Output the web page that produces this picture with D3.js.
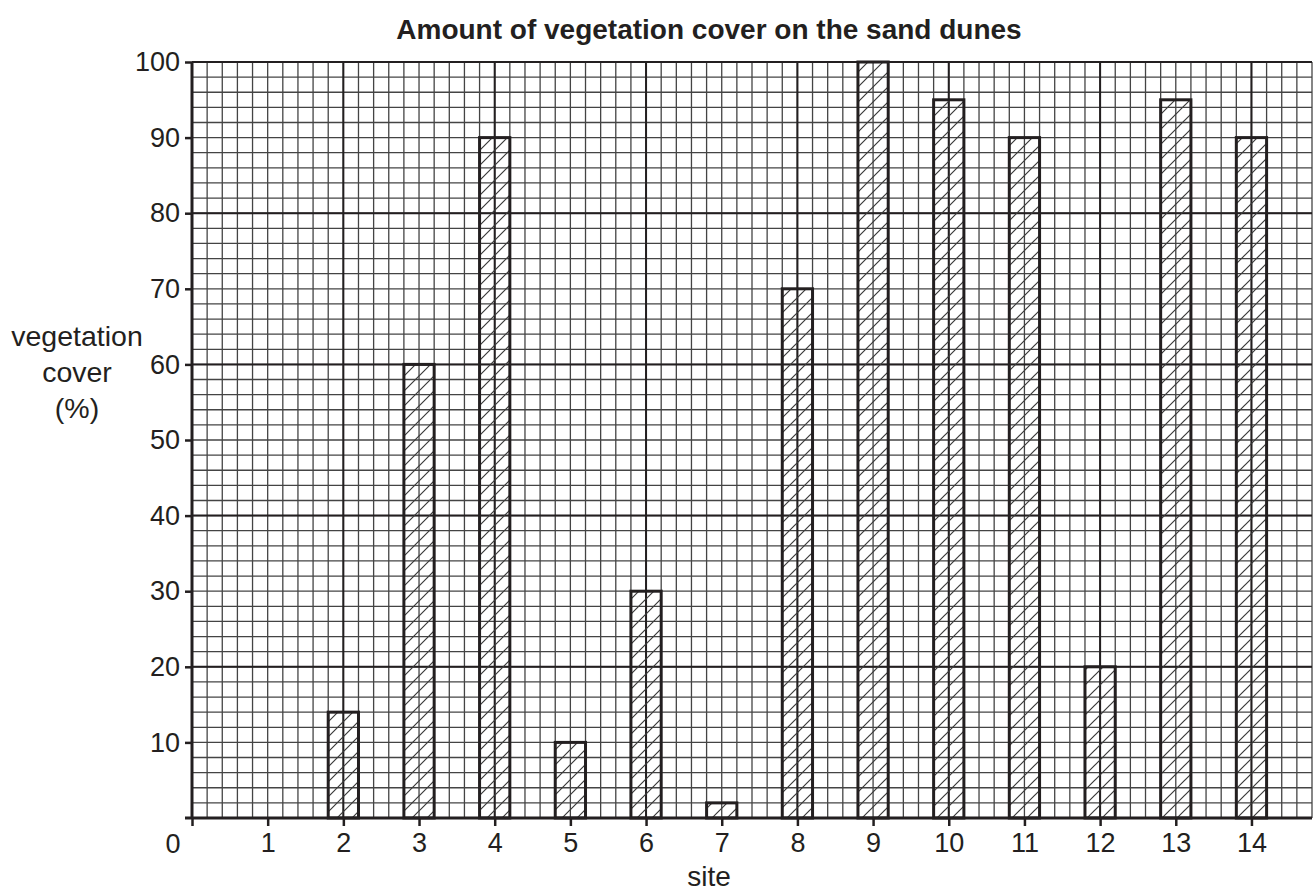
<!DOCTYPE html>
<html>
<head>
<meta charset="utf-8">
<script src="https://cdn.jsdelivr.net/npm/d3@7"></script>
<style>
  html, body { margin: 0; padding: 0; background: #fff; }
  svg { display: block; }
  text { font-family: "Liberation Sans", Arial, Helvetica, sans-serif; fill: #231f20; }
</style>
</head>
<body>
<svg id="chart" width="1315" height="893"></svg>
<script>
// ---- data ----
const sites = [1, 2, 3, 4, 5, 6, 7, 8, 9, 10, 11, 12, 13, 14];
const cover = [0, 14, 60, 90, 10, 30, 2, 70, 100, 95, 90, 20, 95, 90];
const yTickValues = [10, 20, 30, 40, 50, 60, 70, 80, 90, 100];
const xTickValues = [0, 1, 2, 3, 4, 5, 6, 7, 8, 9, 10, 11, 12, 13, 14];
const titleText = "Amount of vegetation cover on the sand dunes";
const yLabelLines = ["vegetation", "cover", "(%)"];
const xLabelText = "site";

// ---- layout ----
const svg = d3.select("#chart");
const ink = "#231f20";
const x = d3.scaleLinear().domain([0, 14.8]).range([192, 1312]);
const y = d3.scaleLinear().domain([0, 100]).range([818, 62]);

// hatch pattern
const defs = svg.append("defs");
const pat = defs.append("pattern")
  .attr("id", "hatch")
  .attr("patternUnits", "userSpaceOnUse")
  .attr("width", 15).attr("height", 15);
pat.append("path")
  .attr("d", "M0,15 L15,0 M-3,3 L3,-3 M12,18 L18,12")
  .attr("stroke", "#3a3a3a").attr("stroke-width", 1.2);

// grid
const grid = svg.append("g");
const minorX = d3.range(0, 75).map(i => i * 0.2);
const minorY = d3.range(0, 51).map(i => i * 2);
grid.selectAll("line.mx").data(minorX).join("line")
  .attr("x1", d => x(d)).attr("x2", d => x(d))
  .attr("y1", y(100)).attr("y2", y(0))
  .attr("stroke", "#444").attr("stroke-width", 1.3);
grid.selectAll("line.my").data(minorY).join("line")
  .attr("y1", d => y(d)).attr("y2", d => y(d))
  .attr("x1", x(0)).attr("x2", x(14.8))
  .attr("stroke", "#444").attr("stroke-width", 1.3);
const majorX = d3.range(0, 15, 2);
const majorY = d3.range(0, 101, 20);
grid.selectAll("line.Mx").data(majorX).join("line")
  .attr("x1", d => x(d)).attr("x2", d => x(d))
  .attr("y1", y(100)).attr("y2", y(0))
  .attr("stroke", ink).attr("stroke-width", 2);
grid.selectAll("line.My").data(majorY).join("line")
  .attr("y1", d => y(d)).attr("y2", d => y(d))
  .attr("x1", x(0)).attr("x2", x(14.8))
  .attr("stroke", ink).attr("stroke-width", 2);

// bars
const barData = sites.map((s, i) => ({ site: s, v: cover[i] })).filter(d => d.v > 0);
svg.append("g").selectAll("rect").data(barData).join("rect")
  .attr("x", d => x(d.site - 0.2))
  .attr("width", d => x(d.site + 0.2) - x(d.site - 0.2))
  .attr("y", d => y(d.v))
  .attr("height", d => y(0) - y(d.v))
  .attr("fill", "url(#hatch)")
  .attr("stroke", ink).attr("stroke-width", 3);

// axes
const fontSize = 27;
const yAxis = svg.append("g")
  .attr("transform", `translate(${x(0)},0)`)
  .call(d3.axisLeft(y).tickValues(yTickValues).tickSize(7).tickPadding(5).tickSizeOuter(0));
yAxis.select(".domain").attr("stroke", ink).attr("stroke-width", 3)
  .attr("d", `M0,${y(100)}V${y(0)}`);
yAxis.selectAll(".tick line").attr("stroke", ink).attr("stroke-width", 2.5);
yAxis.selectAll(".tick text").attr("font-size", fontSize).attr("fill", ink)
  .style("font-family", '"Liberation Sans", Arial, sans-serif');

const xAxis = svg.append("g")
  .attr("transform", `translate(0,${y(0)})`)
  .call(d3.axisBottom(x).tickValues(xTickValues).tickSize(8).tickPadding(7).tickSizeOuter(0)
    .tickFormat(d => d === 0 ? "" : d));
xAxis.select(".domain").attr("stroke", ink).attr("stroke-width", 3)
  .attr("d", `M${x(0) - 7},0H${x(14.8)}`);
xAxis.selectAll(".tick line").attr("stroke", ink).attr("stroke-width", 2.5);
xAxis.selectAll(".tick text").attr("font-size", fontSize).attr("fill", ink)
  .style("font-family", '"Liberation Sans", Arial, sans-serif');

// origin label
svg.append("text").attr("x", x(0) - 19).attr("y", 853)
  .attr("text-anchor", "middle").attr("font-size", fontSize).text("0");

// title
svg.append("text").attr("x", 709).attr("y", 39)
  .attr("text-anchor", "middle").attr("font-size", 28).attr("font-weight", "bold")
  .text(titleText);

// y label
const yl = svg.append("text").attr("text-anchor", "middle").attr("font-size", 28.5);
yLabelLines.forEach((t, i) => {
  yl.append("tspan").attr("x", 77).attr("y", 346 + i * 36).text(t);
});

// x label
svg.append("text").attr("x", 709).attr("y", 886)
  .attr("text-anchor", "middle").attr("font-size", 28).text(xLabelText);
</script>
</body>
</html>
